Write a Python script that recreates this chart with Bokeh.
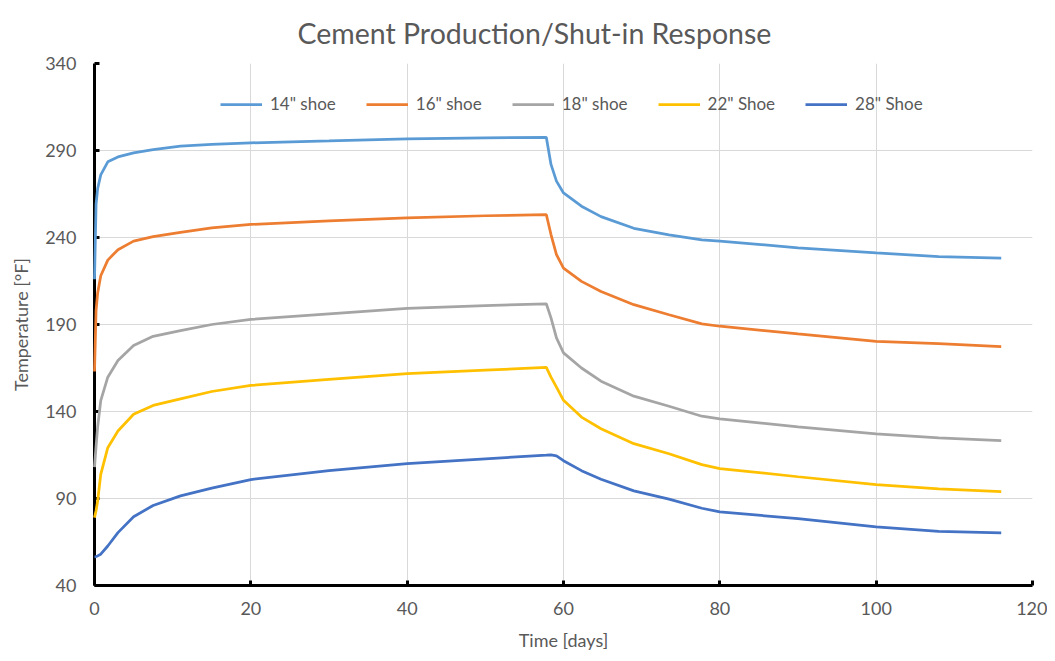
from bokeh.plotting import figure
from bokeh.models import Range1d, FixedTicker, Legend, LegendItem
from bokeh.embed import file_html
from bokeh.resources import INLINE

time_days = [0, 0.2, 0.4, 0.8, 1.7, 3, 5, 7.5, 11, 15, 20, 30, 40, 50, 57.8,
             58.4, 59.1, 60, 62.3, 64.8, 69, 73.5, 77.7, 80, 90, 100, 108, 116]

shoe_14 = [216, 259, 268, 276, 283.5, 286.3, 288.6, 290.5, 292.5, 293.5, 294.4, 295.5, 296.7, 297.3, 297.6,
           282, 272.4, 265.6, 258, 252, 245.3, 241.5, 238.6, 237.9, 234.1, 231.2, 229, 228.1]
shoe_16 = [163, 198, 208, 218, 227, 233, 237.9, 240.5, 243, 245.5, 247.5, 249.5, 251.3, 252.5, 253.2,
           241.7, 230.2, 222.4, 214.8, 209, 201.4, 195.6, 190.4, 189, 184.6, 180.3, 179, 177.3]
shoe_18 = [108, 120, 131, 146.3, 159.7, 169.3, 177.9, 183.2, 186.5, 190, 192.9, 196.1, 199.2, 200.8, 201.9,
           193.8, 182.3, 173.7, 165, 157.4, 148.8, 143, 137.3, 135.8, 131.2, 127.2, 124.9, 123.3]
shoe_22 = [79, 83, 88.5, 103.9, 119.2, 128.8, 138.4, 143.5, 147.3, 151.5, 155, 158.4, 161.8, 163.8, 165.3,
           159.8, 154, 146.4, 136.8, 130.1, 121.5, 115.7, 109.5, 107.2, 102.5, 98, 95.6, 94]
shoe_28 = [56.5, 56.6, 57, 58, 62.7, 70.4, 79.5, 86, 91.5, 96, 100.9, 106, 110.1, 112.8, 114.9,
           115.1, 114.5, 111.7, 106, 101.1, 94.4, 89.6, 84.4, 82.3, 78.4, 73.7, 71.1, 70.2]

series_names = ['14" shoe', '16" shoe', '18" shoe', '22" Shoe', '28" Shoe']
series_values = [shoe_14, shoe_16, shoe_18, shoe_22, shoe_28]
series_colors = ["#5B9BD5", "#ED7D31", "#A5A5A5", "#FFC000", "#4472C4"]

x_ticks = [0, 20, 40, 60, 80, 100, 120]
y_ticks = [40, 90, 140, 190, 240, 290, 340]
chart_title = "Cement Production/Shut-in Response"

FONT = "Lato"
TXT = "#595959"

p = figure(width=1047, height=653, output_backend="svg", toolbar_location=None,
           x_range=Range1d(0, 120), y_range=Range1d(40, 340),
           min_border_left=94, min_border_right=15, min_border_top=61, min_border_bottom=68)

p.title.text = chart_title
p.title.align = "left"
p.title.offset = 203
p.title.text_font = FONT
p.title.text_font_size = "28.5px"
p.title.text_font_style = "normal"
p.title.text_color = TXT
p.title.standoff = 27

p.outline_line_color = None
p.background_fill_color = "white"
p.border_fill_color = "white"

for ax, ticks in ((p.xaxis[0], x_ticks), (p.yaxis[0], y_ticks)):
    ax.ticker = FixedTicker(ticks=ticks)
    ax.axis_line_color = "black"
    ax.axis_line_width = 3
    ax.major_tick_line_color = "black"
    ax.major_tick_line_width = 3
    ax.major_tick_in = 5
    ax.major_tick_out = 0
    ax.minor_tick_line_color = None
    ax.major_label_text_font = FONT
    ax.major_label_text_font_size = "18px"
    ax.major_label_text_color = TXT
    ax.axis_label_text_font = FONT
    ax.axis_label_text_font_size = "18px"
    ax.axis_label_text_font_style = "normal"
    ax.axis_label_text_color = TXT

p.xaxis.axis_label = "Time [days]"
p.yaxis.axis_label = "Temperature [°F]"
p.xaxis.major_label_standoff = 16
p.yaxis.major_label_standoff = 18
p.xaxis.axis_label_standoff = 11
p.yaxis.axis_label_standoff = 10

p.xgrid.ticker = FixedTicker(ticks=x_ticks)
p.ygrid.ticker = FixedTicker(ticks=y_ticks)
p.grid.grid_line_color = "#D9D9D9"
p.grid.grid_line_width = 1

items = []
for name, vals, col in zip(series_names, series_values, series_colors):
    r = p.line(time_days, vals, line_color=col, line_width=2.75)
    r.level = "overlay"
    items.append(LegendItem(label=name, renderers=[r]))

legend = Legend(items=items, orientation="horizontal", location=(126, 471),
                border_line_color=None, background_fill_alpha=0,
                label_text_font=FONT, label_text_font_size="17px", label_text_color=TXT,
                glyph_width=42, glyph_height=20, label_standoff=8, spacing=30,
                margin=0, padding=5)
p.add_layout(legend)

open("out.html", "w").write(file_html(p, INLINE))
